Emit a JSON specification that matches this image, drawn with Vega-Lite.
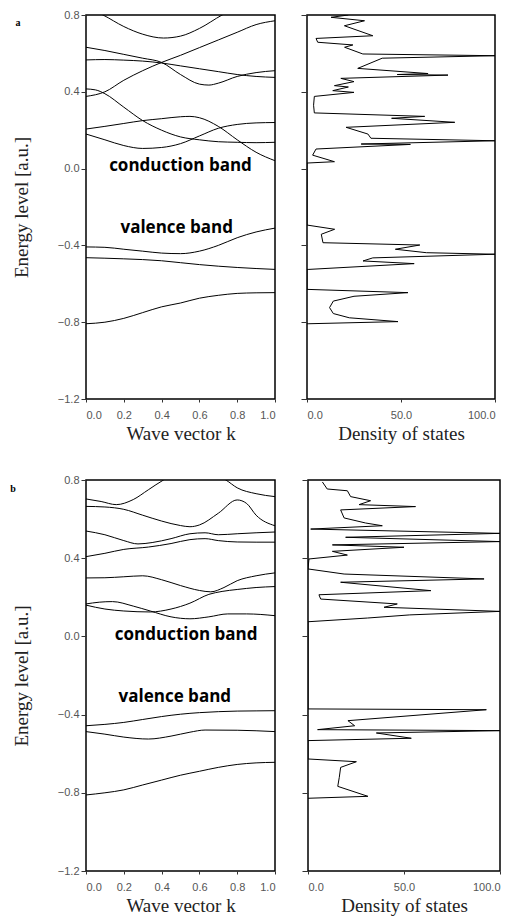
{
  "$schema": "https://vega.github.io/schema/vega-lite/v6.json",
  "background": "white",
  "padding": {"left": 9, "top": 8, "right": 0, "bottom": 0},
  "spacing": 29,
  "config": {
    "view": {"stroke": "black", "strokeWidth": 1.5},
    "axis": {
      "domain": false,
      "grid": false,
      "labelFont": "Liberation Sans",
      "labelFontSize": 11,
      "labelColor": "#555",
      "tickColor": "#333",
      "titleFont": "Liberation Serif",
      "titleFontSize": 19,
      "titleFontWeight": "normal",
      "titleColor": "#222"
    }
  },
  "datasets": {
    "bandsA": [
      {"band": 1, "k": 0.0, "E": 0.84}, {"band": 1, "k": 0.09, "E": 0.8}, {"band": 1, "k": 0.2, "E": 0.74}, {"band": 1, "k": 0.3, "E": 0.70}, {"band": 1, "k": 0.41, "E": 0.68}, {"band": 1, "k": 0.5, "E": 0.69}, {"band": 1, "k": 0.6, "E": 0.73}, {"band": 1, "k": 0.72, "E": 0.8}, {"band": 1, "k": 0.8, "E": 0.84},
      {"band": 2, "k": 0.0, "E": 0.376}, {"band": 2, "k": 0.1, "E": 0.40}, {"band": 2, "k": 0.2, "E": 0.46}, {"band": 2, "k": 0.3, "E": 0.51}, {"band": 2, "k": 0.4, "E": 0.553}, {"band": 2, "k": 0.5, "E": 0.59}, {"band": 2, "k": 0.6, "E": 0.63}, {"band": 2, "k": 0.7, "E": 0.67}, {"band": 2, "k": 0.8, "E": 0.71}, {"band": 2, "k": 0.9, "E": 0.75}, {"band": 2, "k": 1.0, "E": 0.77},
      {"band": 3, "k": 0.0, "E": 0.632}, {"band": 3, "k": 0.1, "E": 0.615}, {"band": 3, "k": 0.2, "E": 0.595}, {"band": 3, "k": 0.3, "E": 0.575}, {"band": 3, "k": 0.4, "E": 0.553}, {"band": 3, "k": 0.5, "E": 0.49}, {"band": 3, "k": 0.6, "E": 0.44}, {"band": 3, "k": 0.65, "E": 0.435}, {"band": 3, "k": 0.7, "E": 0.445}, {"band": 3, "k": 0.8, "E": 0.48}, {"band": 3, "k": 0.9, "E": 0.50}, {"band": 3, "k": 1.0, "E": 0.51},
      {"band": 4, "k": 0.0, "E": 0.566}, {"band": 4, "k": 0.1, "E": 0.568}, {"band": 4, "k": 0.2, "E": 0.565}, {"band": 4, "k": 0.3, "E": 0.56}, {"band": 4, "k": 0.4, "E": 0.55}, {"band": 4, "k": 0.5, "E": 0.535}, {"band": 4, "k": 0.6, "E": 0.52}, {"band": 4, "k": 0.7, "E": 0.505}, {"band": 4, "k": 0.8, "E": 0.49}, {"band": 4, "k": 0.9, "E": 0.48}, {"band": 4, "k": 1.0, "E": 0.475},
      {"band": 5, "k": 0.0, "E": 0.415}, {"band": 5, "k": 0.05, "E": 0.41}, {"band": 5, "k": 0.1, "E": 0.39}, {"band": 5, "k": 0.2, "E": 0.32}, {"band": 5, "k": 0.3, "E": 0.25}, {"band": 5, "k": 0.4, "E": 0.20}, {"band": 5, "k": 0.5, "E": 0.165}, {"band": 5, "k": 0.6, "E": 0.15}, {"band": 5, "k": 0.7, "E": 0.14}, {"band": 5, "k": 0.8, "E": 0.137}, {"band": 5, "k": 0.9, "E": 0.135}, {"band": 5, "k": 1.0, "E": 0.137},
      {"band": 6, "k": 0.0, "E": 0.206}, {"band": 6, "k": 0.1, "E": 0.22}, {"band": 6, "k": 0.2, "E": 0.235}, {"band": 6, "k": 0.3, "E": 0.25}, {"band": 6, "k": 0.4, "E": 0.26}, {"band": 6, "k": 0.5, "E": 0.27}, {"band": 6, "k": 0.55, "E": 0.272}, {"band": 6, "k": 0.6, "E": 0.265}, {"band": 6, "k": 0.7, "E": 0.22}, {"band": 6, "k": 0.8, "E": 0.15}, {"band": 6, "k": 0.9, "E": 0.085}, {"band": 6, "k": 1.0, "E": 0.041},
      {"band": 7, "k": 0.0, "E": 0.18}, {"band": 7, "k": 0.1, "E": 0.15}, {"band": 7, "k": 0.2, "E": 0.12}, {"band": 7, "k": 0.3, "E": 0.105}, {"band": 7, "k": 0.4, "E": 0.11}, {"band": 7, "k": 0.5, "E": 0.13}, {"band": 7, "k": 0.6, "E": 0.17}, {"band": 7, "k": 0.7, "E": 0.21}, {"band": 7, "k": 0.8, "E": 0.23}, {"band": 7, "k": 0.9, "E": 0.238}, {"band": 7, "k": 1.0, "E": 0.24},
      {"band": 8, "k": 0.0, "E": -0.408}, {"band": 8, "k": 0.1, "E": -0.41}, {"band": 8, "k": 0.2, "E": -0.42}, {"band": 8, "k": 0.3, "E": -0.43}, {"band": 8, "k": 0.4, "E": -0.44}, {"band": 8, "k": 0.5, "E": -0.443}, {"band": 8, "k": 0.6, "E": -0.43}, {"band": 8, "k": 0.7, "E": -0.40}, {"band": 8, "k": 0.8, "E": -0.36}, {"band": 8, "k": 0.9, "E": -0.33}, {"band": 8, "k": 1.0, "E": -0.31},
      {"band": 9, "k": 0.0, "E": -0.464}, {"band": 9, "k": 0.2, "E": -0.47}, {"band": 9, "k": 0.4, "E": -0.48}, {"band": 9, "k": 0.5, "E": -0.49}, {"band": 9, "k": 0.6, "E": -0.50}, {"band": 9, "k": 0.8, "E": -0.515}, {"band": 9, "k": 1.0, "E": -0.525},
      {"band": 10, "k": 0.0, "E": -0.808}, {"band": 10, "k": 0.1, "E": -0.80}, {"band": 10, "k": 0.2, "E": -0.78}, {"band": 10, "k": 0.3, "E": -0.75}, {"band": 10, "k": 0.4, "E": -0.72}, {"band": 10, "k": 0.5, "E": -0.70}, {"band": 10, "k": 0.6, "E": -0.675}, {"band": 10, "k": 0.7, "E": -0.66}, {"band": 10, "k": 0.8, "E": -0.65}, {"band": 10, "k": 0.9, "E": -0.647}, {"band": 10, "k": 1.0, "E": -0.646}
    ],
    "bandsB": [
      {"band": 1, "k": 0.0, "E": 0.703}, {"band": 1, "k": 0.08, "E": 0.69}, {"band": 1, "k": 0.16, "E": 0.674}, {"band": 1, "k": 0.25, "E": 0.70}, {"band": 1, "k": 0.33, "E": 0.75}, {"band": 1, "k": 0.41, "E": 0.8}, {"band": 1, "k": 0.5, "E": 0.84}, {"band": 1, "k": 0.6, "E": 0.85}, {"band": 1, "k": 0.7, "E": 0.82}, {"band": 1, "k": 0.74, "E": 0.8}, {"band": 1, "k": 0.8, "E": 0.76}, {"band": 1, "k": 0.9, "E": 0.73}, {"band": 1, "k": 1.0, "E": 0.715},
      {"band": 2, "k": 0.0, "E": 0.665}, {"band": 2, "k": 0.1, "E": 0.662}, {"band": 2, "k": 0.2, "E": 0.65}, {"band": 2, "k": 0.3, "E": 0.62}, {"band": 2, "k": 0.4, "E": 0.59}, {"band": 2, "k": 0.5, "E": 0.567}, {"band": 2, "k": 0.55, "E": 0.561}, {"band": 2, "k": 0.6, "E": 0.57}, {"band": 2, "k": 0.7, "E": 0.63}, {"band": 2, "k": 0.8, "E": 0.698}, {"band": 2, "k": 0.85, "E": 0.68}, {"band": 2, "k": 0.9, "E": 0.62}, {"band": 2, "k": 1.0, "E": 0.566},
      {"band": 3, "k": 0.0, "E": 0.539}, {"band": 3, "k": 0.1, "E": 0.52}, {"band": 3, "k": 0.2, "E": 0.49}, {"band": 3, "k": 0.275, "E": 0.473}, {"band": 3, "k": 0.35, "E": 0.48}, {"band": 3, "k": 0.45, "E": 0.50}, {"band": 3, "k": 0.55, "E": 0.525}, {"band": 3, "k": 0.63, "E": 0.53}, {"band": 3, "k": 0.7, "E": 0.52}, {"band": 3, "k": 0.8, "E": 0.525}, {"band": 3, "k": 0.9, "E": 0.53}, {"band": 3, "k": 1.0, "E": 0.534},
      {"band": 4, "k": 0.0, "E": 0.408}, {"band": 4, "k": 0.1, "E": 0.425}, {"band": 4, "k": 0.2, "E": 0.445}, {"band": 4, "k": 0.33, "E": 0.457}, {"band": 4, "k": 0.45, "E": 0.475}, {"band": 4, "k": 0.55, "E": 0.495}, {"band": 4, "k": 0.63, "E": 0.50}, {"band": 4, "k": 0.7, "E": 0.49}, {"band": 4, "k": 0.8, "E": 0.483}, {"band": 4, "k": 0.9, "E": 0.482}, {"band": 4, "k": 1.0, "E": 0.482},
      {"band": 5, "k": 0.0, "E": 0.299}, {"band": 5, "k": 0.1, "E": 0.30}, {"band": 5, "k": 0.2, "E": 0.305}, {"band": 5, "k": 0.3, "E": 0.31}, {"band": 5, "k": 0.4, "E": 0.29}, {"band": 5, "k": 0.5, "E": 0.26}, {"band": 5, "k": 0.6, "E": 0.235}, {"band": 5, "k": 0.66, "E": 0.228}, {"band": 5, "k": 0.73, "E": 0.25}, {"band": 5, "k": 0.8, "E": 0.285}, {"band": 5, "k": 0.9, "E": 0.31}, {"band": 5, "k": 1.0, "E": 0.325},
      {"band": 6, "k": 0.0, "E": 0.166}, {"band": 6, "k": 0.07, "E": 0.175}, {"band": 6, "k": 0.14, "E": 0.178}, {"band": 6, "k": 0.25, "E": 0.155}, {"band": 6, "k": 0.34, "E": 0.13}, {"band": 6, "k": 0.45, "E": 0.10}, {"band": 6, "k": 0.55, "E": 0.09}, {"band": 6, "k": 0.65, "E": 0.10}, {"band": 6, "k": 0.75, "E": 0.115}, {"band": 6, "k": 0.85, "E": 0.115}, {"band": 6, "k": 1.0, "E": 0.106},
      {"band": 7, "k": 0.0, "E": 0.16}, {"band": 7, "k": 0.1, "E": 0.14}, {"band": 7, "k": 0.2, "E": 0.13}, {"band": 7, "k": 0.34, "E": 0.125}, {"band": 7, "k": 0.45, "E": 0.14}, {"band": 7, "k": 0.55, "E": 0.17}, {"band": 7, "k": 0.65, "E": 0.215}, {"band": 7, "k": 0.72, "E": 0.23}, {"band": 7, "k": 0.8, "E": 0.24}, {"band": 7, "k": 0.9, "E": 0.25}, {"band": 7, "k": 1.0, "E": 0.255},
      {"band": 8, "k": 0.0, "E": -0.457}, {"band": 8, "k": 0.1, "E": -0.45}, {"band": 8, "k": 0.2, "E": -0.44}, {"band": 8, "k": 0.3, "E": -0.425}, {"band": 8, "k": 0.4, "E": -0.41}, {"band": 8, "k": 0.5, "E": -0.398}, {"band": 8, "k": 0.6, "E": -0.39}, {"band": 8, "k": 0.7, "E": -0.385}, {"band": 8, "k": 0.8, "E": -0.382}, {"band": 8, "k": 0.9, "E": -0.381}, {"band": 8, "k": 1.0, "E": -0.38},
      {"band": 9, "k": 0.0, "E": -0.487}, {"band": 9, "k": 0.1, "E": -0.50}, {"band": 9, "k": 0.2, "E": -0.515}, {"band": 9, "k": 0.33, "E": -0.525}, {"band": 9, "k": 0.45, "E": -0.51}, {"band": 9, "k": 0.55, "E": -0.49}, {"band": 9, "k": 0.63, "E": -0.479}, {"band": 9, "k": 0.8, "E": -0.48}, {"band": 9, "k": 1.0, "E": -0.487},
      {"band": 10, "k": 0.0, "E": -0.811}, {"band": 10, "k": 0.1, "E": -0.80}, {"band": 10, "k": 0.2, "E": -0.785}, {"band": 10, "k": 0.3, "E": -0.76}, {"band": 10, "k": 0.4, "E": -0.735}, {"band": 10, "k": 0.5, "E": -0.71}, {"band": 10, "k": 0.6, "E": -0.69}, {"band": 10, "k": 0.7, "E": -0.67}, {"band": 10, "k": 0.8, "E": -0.655}, {"band": 10, "k": 0.9, "E": -0.647}, {"band": 10, "k": 1.0, "E": -0.644}
    ],
    "dosA": [
      {"i": 1, "d": 22, "E": 0.80}, {"i": 2, "d": 12.8, "E": 0.788}, {"i": 3, "d": 30.6, "E": 0.77}, {"i": 4, "d": 19.9, "E": 0.744}, {"i": 5, "d": 35, "E": 0.692}, {"i": 6, "d": 4.8, "E": 0.678}, {"i": 7, "d": 5.7, "E": 0.658}, {"i": 8, "d": 24.4, "E": 0.644}, {"i": 9, "d": 20, "E": 0.632}, {"i": 10, "d": 29.7, "E": 0.597}, {"i": 11, "d": 100, "E": 0.588}, {"i": 12, "d": 40, "E": 0.575}, {"i": 13, "d": 27, "E": 0.522}, {"i": 14, "d": 64.4, "E": 0.495}, {"i": 15, "d": 48, "E": 0.49}, {"i": 16, "d": 75, "E": 0.487}, {"i": 17, "d": 18, "E": 0.47}, {"i": 18, "d": 25, "E": 0.453}, {"i": 19, "d": 14.6, "E": 0.432}, {"i": 20, "d": 22, "E": 0.425}, {"i": 21, "d": 13.7, "E": 0.406}, {"i": 22, "d": 25, "E": 0.397}, {"i": 23, "d": 3.9, "E": 0.376}, {"i": 24, "d": 3.5, "E": 0.33}, {"i": 25, "d": 3.9, "E": 0.29}, {"i": 26, "d": 62.6, "E": 0.272}, {"i": 27, "d": 45, "E": 0.262}, {"i": 28, "d": 78.6, "E": 0.241}, {"i": 29, "d": 20.8, "E": 0.215}, {"i": 30, "d": 32.4, "E": 0.18}, {"i": 31, "d": 34, "E": 0.158}, {"i": 32, "d": 100, "E": 0.145}, {"i": 33, "d": 28.8, "E": 0.128}, {"i": 34, "d": 55, "E": 0.126}, {"i": 35, "d": 4.8, "E": 0.102}, {"i": 36, "d": 3, "E": 0.07}, {"i": 37, "d": 14.6, "E": 0.036}, {"i": 38, "d": 0, "E": 0.029},
      {"i": 39, "d": 0, "E": -0.294}, {"i": 40, "d": 14.7, "E": -0.316}, {"i": 41, "d": 7.6, "E": -0.342}, {"i": 42, "d": 8.5, "E": -0.386}, {"i": 43, "d": 60, "E": -0.398}, {"i": 44, "d": 47, "E": -0.42}, {"i": 45, "d": 63.5, "E": -0.438}, {"i": 46, "d": 100, "E": -0.446}, {"i": 47, "d": 35, "E": -0.465}, {"i": 48, "d": 29.8, "E": -0.481}, {"i": 49, "d": 57, "E": -0.495}, {"i": 50, "d": 1, "E": -0.525}, {"i": 51, "d": 0, "E": -0.525},
      {"i": 52, "d": 0, "E": -0.629}, {"i": 53, "d": 53.7, "E": -0.646}, {"i": 54, "d": 25, "E": -0.665}, {"i": 55, "d": 14, "E": -0.69}, {"i": 56, "d": 12, "E": -0.724}, {"i": 57, "d": 14, "E": -0.755}, {"i": 58, "d": 22.5, "E": -0.777}, {"i": 59, "d": 48.4, "E": -0.797}, {"i": 60, "d": 1, "E": -0.808}, {"i": 61, "d": 0, "E": -0.808}
    ],
    "dosB": [
      {"i": 1, "d": 7.5, "E": 0.79}, {"i": 2, "d": 10, "E": 0.754}, {"i": 3, "d": 20.5, "E": 0.745}, {"i": 4, "d": 22.2, "E": 0.715}, {"i": 5, "d": 32.6, "E": 0.694}, {"i": 6, "d": 26.6, "E": 0.674}, {"i": 7, "d": 56, "E": 0.664}, {"i": 8, "d": 17, "E": 0.647}, {"i": 9, "d": 18.8, "E": 0.606}, {"i": 10, "d": 30, "E": 0.58}, {"i": 11, "d": 38.7, "E": 0.566}, {"i": 12, "d": 1.4, "E": 0.549}, {"i": 13, "d": 100, "E": 0.527}, {"i": 14, "d": 19.6, "E": 0.507}, {"i": 15, "d": 100, "E": 0.485}, {"i": 16, "d": 12.7, "E": 0.468}, {"i": 17, "d": 50, "E": 0.456}, {"i": 18, "d": 12.7, "E": 0.435}, {"i": 19, "d": 20.5, "E": 0.416}, {"i": 20, "d": 0.5, "E": 0.396}, {"i": 21, "d": 0, "E": 0.345}, {"i": 22, "d": 18.8, "E": 0.319}, {"i": 23, "d": 91.7, "E": 0.294}, {"i": 24, "d": 17, "E": 0.277}, {"i": 25, "d": 64, "E": 0.234}, {"i": 26, "d": 5.7, "E": 0.213}, {"i": 27, "d": 6.6, "E": 0.191}, {"i": 28, "d": 46.5, "E": 0.166}, {"i": 29, "d": 39.6, "E": 0.149}, {"i": 30, "d": 100, "E": 0.128}, {"i": 31, "d": 53, "E": 0.11}, {"i": 32, "d": 31, "E": 0.094}, {"i": 33, "d": 0, "E": 0.075},
      {"i": 34, "d": 0, "E": -0.371}, {"i": 35, "d": 92.9, "E": -0.375}, {"i": 36, "d": 20.8, "E": -0.431}, {"i": 37, "d": 24.3, "E": -0.457}, {"i": 38, "d": 5, "E": -0.477}, {"i": 39, "d": 100, "E": -0.482}, {"i": 40, "d": 35.6, "E": -0.494}, {"i": 41, "d": 53.8, "E": -0.521}, {"i": 42, "d": 0, "E": -0.533},
      {"i": 43, "d": 0, "E": -0.627}, {"i": 44, "d": 25.2, "E": -0.641}, {"i": 45, "d": 17, "E": -0.67}, {"i": 46, "d": 16.3, "E": -0.721}, {"i": 47, "d": 15.5, "E": -0.767}, {"i": 48, "d": 31.2, "E": -0.818}, {"i": 49, "d": 0, "E": -0.828}
    ],
    "labelsA": [{"k": 0.5, "E": 0.014, "t": "conduction band"}, {"k": 0.48, "E": -0.308, "t": "valence band"}],
    "labelsB": [{"k": 0.53, "E": 0.007, "t": "conduction band"}, {"k": 0.47, "E": -0.31, "t": "valence band"}],
    "letterA": [{"k": -0.36, "E": 0.758, "t": "a"}],
    "letterB": [{"k": -0.386, "E": 0.754, "t": "b"}]
  },
  "vconcat": [
    {
      "spacing": 32,
      "bounds": "flush",
      "hconcat": [
        {
          "width": 189, "height": 384,
          "encoding": {
            "x": {"field": "k", "type": "quantitative", "scale": {"domain": [0, 1], "nice": false},
                  "axis": {"values": [0, 0.2, 0.4, 0.6, 0.8, 1.0], "format": ".1f", "tickSize": 3, "labelPadding": 7, "titlePadding": 4, "title": "Wave vector k"}},
            "y": {"field": "E", "type": "quantitative", "scale": {"domain": [-1.2, 0.8], "nice": false, "zero": false},
                  "axis": {"values": [-1.2, -0.8, -0.4, 0, 0.4, 0.8], "format": ".1f", "tickSize": 5, "labelPadding": 2, "titlePadding": 26, "title": "Energy level [a.u.]"}}
          },
          "layer": [
            {"data": {"name": "bandsA"}, "mark": {"type": "line", "color": "black", "strokeWidth": 1, "interpolate": "monotone", "clip": true},
             "encoding": {"detail": {"field": "band", "type": "nominal"}}},
            {"data": {"name": "labelsA"}, "mark": {"type": "text", "font": "Open Sans", "fontWeight": "bold", "fontSize": 17, "color": "black"},
             "encoding": {"text": {"field": "t", "type": "nominal"}}},
            {"data": {"name": "letterA"}, "mark": {"type": "text", "font": "Liberation Serif", "fontWeight": "bold", "fontSize": 10, "color": "black"},
             "encoding": {"text": {"field": "t", "type": "nominal"}}}
          ]
        },
        {
          "width": 188, "height": 384,
          "data": {"name": "dosA"},
          "mark": {"type": "line", "color": "black", "strokeWidth": 1, "clip": true},
          "encoding": {
            "x": {"field": "d", "type": "quantitative", "scale": {"domain": [0, 100], "nice": false},
                  "axis": {"values": [0, 50, 100], "format": ".1f", "tickSize": 3, "labelPadding": 7, "titlePadding": 4, "title": "Density of states"}},
            "y": {"field": "E", "type": "quantitative", "scale": {"domain": [-1.2, 0.8], "nice": false, "zero": false},
                  "axis": {"values": [-1.2, -0.8, -0.4, 0, 0.4, 0.8], "labels": false, "tickSize": 6, "title": null}},
            "order": {"field": "i", "type": "quantitative"}
          }
        }
      ]
    },
    {
      "spacing": 33,
      "bounds": "flush",
      "hconcat": [
        {
          "width": 189, "height": 391,
          "encoding": {
            "x": {"field": "k", "type": "quantitative", "scale": {"domain": [0, 1], "nice": false},
                  "axis": {"values": [0, 0.2, 0.4, 0.6, 0.8, 1.0], "format": ".1f", "tickSize": 3, "labelPadding": 7, "titlePadding": 4, "title": "Wave vector k"}},
            "y": {"field": "E", "type": "quantitative", "scale": {"domain": [-1.2, 0.8], "nice": false, "zero": false},
                  "axis": {"values": [-1.2, -0.8, -0.4, 0, 0.4, 0.8], "format": ".1f", "tickSize": 5, "labelPadding": 2, "titlePadding": 26, "title": "Energy level [a.u.]"}}
          },
          "layer": [
            {"data": {"name": "bandsB"}, "mark": {"type": "line", "color": "black", "strokeWidth": 1, "interpolate": "monotone", "clip": true},
             "encoding": {"detail": {"field": "band", "type": "nominal"}}},
            {"data": {"name": "labelsB"}, "mark": {"type": "text", "font": "Open Sans", "fontWeight": "bold", "fontSize": 17, "color": "black"},
             "encoding": {"text": {"field": "t", "type": "nominal"}}},
            {"data": {"name": "letterB"}, "mark": {"type": "text", "font": "Liberation Serif", "fontWeight": "bold", "fontSize": 10, "color": "black"},
             "encoding": {"text": {"field": "t", "type": "nominal"}}}
          ]
        },
        {
          "width": 192, "height": 391,
          "data": {"name": "dosB"},
          "mark": {"type": "line", "color": "black", "strokeWidth": 1, "clip": true},
          "encoding": {
            "x": {"field": "d", "type": "quantitative", "scale": {"domain": [0, 100], "nice": false},
                  "axis": {"values": [0, 50, 100], "format": ".1f", "tickSize": 3, "labelPadding": 7, "titlePadding": 4, "title": "Density of states"}},
            "y": {"field": "E", "type": "quantitative", "scale": {"domain": [-1.2, 0.8], "nice": false, "zero": false},
                  "axis": {"values": [-1.2, -0.8, -0.4, 0, 0.4, 0.8], "labels": false, "tickSize": 6, "title": null}},
            "order": {"field": "i", "type": "quantitative"}
          }
        }
      ]
    }
  ]
}
